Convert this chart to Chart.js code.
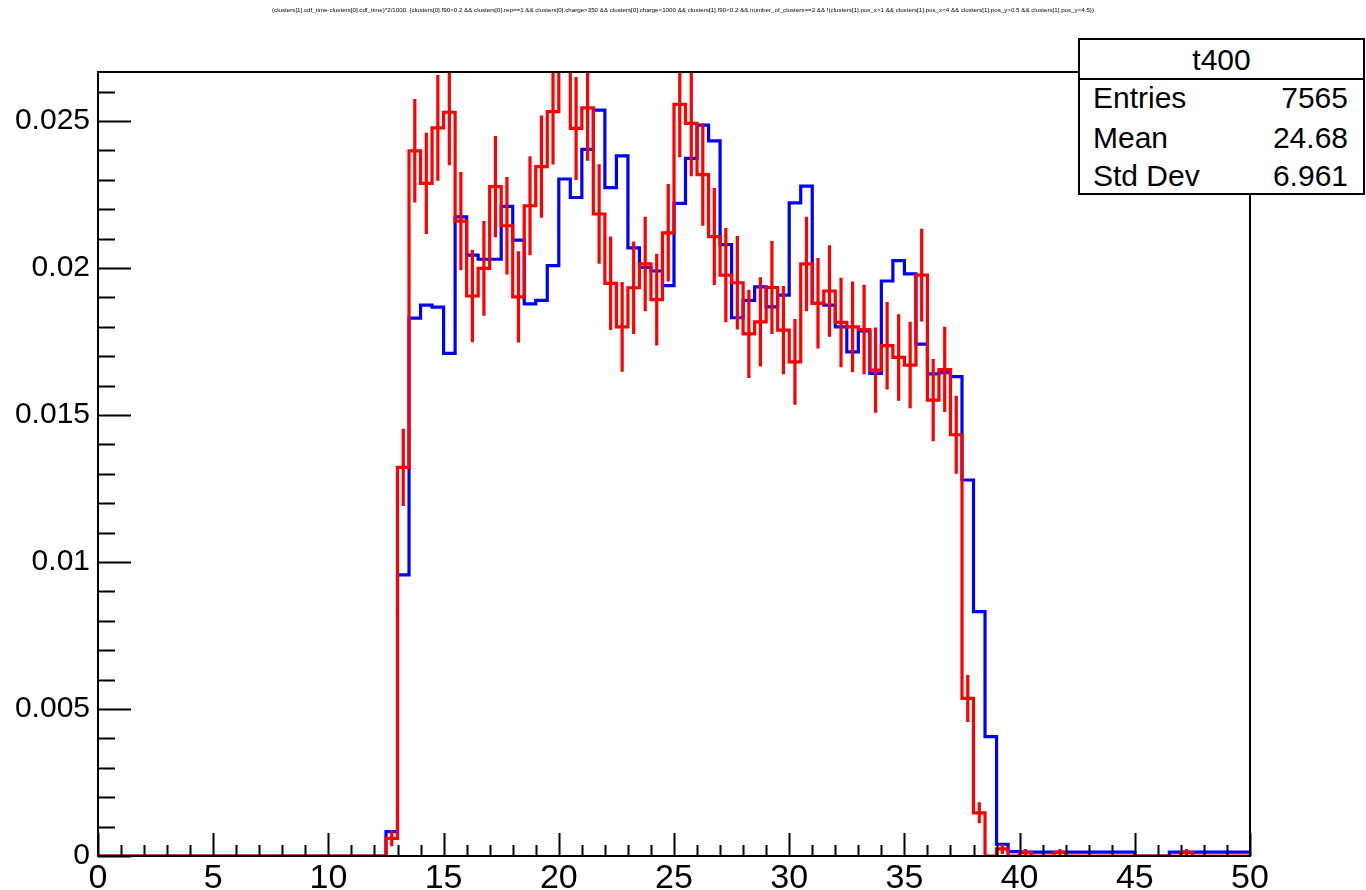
<!DOCTYPE html>
<html>
<head>
<meta charset="utf-8">
<script src="https://cdn.jsdelivr.net/npm/chart.js@4.4.1/dist/chart.umd.min.js"></script>
<style>
    body { margin: 0; background: #fff; }
    #wrap { position: relative; width: 1366px; height: 890px; overflow: hidden; font-family: "Liberation Sans", Arial, Helvetica, sans-serif; }
    #histo { position: absolute; left: 0; top: 0; }
    #title { position: absolute; left: 0; width: 1366px; top: 6px; text-align: center; font-size: 6.2px; line-height: 7px; color: #000; white-space: nowrap; }
    #stats { position: absolute; left: 1078px; top: 38px; width: 287px; height: 157px; border: 2px solid #000; box-sizing: border-box; background: #fff; }
    #stats .sep { position: absolute; left: 0; right: 0; top: 38px; border-top: 2px solid #000; }
    .st { position: absolute; font-size: 30px; line-height: 30px; color: #000; white-space: nowrap; }
</style>
</head>
<body>
<div id="wrap">
    <canvas id="histo" width="1366" height="890"></canvas>
    <div id="title">(clusters[1].cdf_time-clusters[0].cdf_time)*2/1000. {clusters[0].f90&gt;0.2 &amp;&amp; clusters[0].rep==1 &amp;&amp; clusters[0].charge&gt;350 &amp;&amp; clusters[0].charge&lt;1000 &amp;&amp; clusters[1].f90&lt;0.2 &amp;&amp; number_of_clusters==2 &amp;&amp; !(clusters[1].pos_x&gt;1 &amp;&amp; clusters[1].pos_x&lt;4 &amp;&amp; clusters[1].pos_y&gt;0.5 &amp;&amp; clusters[1].pos_y&lt;4.5)}</div>
    <div id="stats"><div class="sep"></div></div>
</div>
<script>
// histogram binning (100 bins of 0.5 from 0 to 50)
const xMin = 0;
const xMax = 50;
const binWidth = 0.5;
const yMax = 0.02667;

// blue histogram (t400), one value per bin
const blueValues = [
    0, 0, 0, 0, 0, 0, 0, 0, 0, 0,
    0, 0, 0, 0, 0, 0, 0, 0, 0, 0,
    0, 0, 0, 0, 0, 0.00083, 0.00956, 0.0183, 0.01874, 0.01867,
    0.0171, 0.02174, 0.02044, 0.0203, 0.0203, 0.0221, 0.02095, 0.01878, 0.0189, 0.02008,
    0.02303, 0.0224, 0.02404, 0.02537, 0.02274, 0.02382, 0.02069, 0.02002, 0.0199, 0.0194,
    0.0222, 0.02373, 0.02486, 0.02433, 0.0208, 0.01831, 0.0189, 0.01936, 0.01868, 0.01908,
    0.02222, 0.02279, 0.0188, 0.01874, 0.018, 0.01715, 0.01786, 0.01642, 0.01956, 0.02025,
    0.0198, 0.01741, 0.0164, 0.01644, 0.01631, 0.01279, 0.00831, 0.00406, 0.0004, 0.00015,
    0.00013, 0.00013, 0.00013, 0.00013, 0.00013, 0.00013, 0.00013, 0.00013, 0.00013, 0.00013,
    0, 0, 0, 0.00013, 0.00013, 0.00013, 0.00013, 0.00013, 0.00013, 0.00013
];

// red histogram with its errors
const redValues = [
    0, 0, 0, 0, 0, 0, 0, 0, 0, 0,
    0, 0, 0, 0, 0, 0, 0, 0, 0, 0,
    0, 0, 0, 0, 0, 0.0006, 0.01322, 0.02399, 0.02288, 0.02477,
    0.0253, 0.0216, 0.01905, 0.01999, 0.02277, 0.02144, 0.01902, 0.02212, 0.02345, 0.02532,
    0.029, 0.02475, 0.02545, 0.02184, 0.01948, 0.018, 0.01933, 0.02014, 0.01893, 0.0212,
    0.02557, 0.02492, 0.02318, 0.02107, 0.01976, 0.0195, 0.01776, 0.01817, 0.01934, 0.01789,
    0.01681, 0.02014, 0.0188, 0.01922, 0.01815, 0.018, 0.01791, 0.01653, 0.01736, 0.01696,
    0.0167, 0.01976, 0.01551, 0.01655, 0.01433, 0.00536, 0.00147, 0, 0.00024, 0,
    0.00012, 0, 0, 0.00012, 0, 0, 0, 0, 0, 0,
    0, 0, 0, 0, 0.00012, 0, 0, 0, 0, 0
];

const redErrors = [
    0, 0, 0, 0, 0, 0, 0, 0, 0, 0,
    0, 0, 0, 0, 0, 0, 0, 0, 0, 0,
    0, 0, 0, 0, 0, 0.00027, 0.00131, 0.00176, 0.00172, 0.0018,
    0.0018, 0.00167, 0.00157, 0.00161, 0.00172, 0.00166, 0.00155, 0.00168, 0.00174, 0.0018,
    0.0019, 0.00175, 0.0018, 0.00169, 0.00159, 0.00153, 0.00157, 0.00161, 0.00156, 0.00166,
    0.0018, 0.0018, 0.00174, 0.00165, 0.0016, 0.00159, 0.0015, 0.00152, 0.00158, 0.0015,
    0.00146, 0.00161, 0.00154, 0.00156, 0.00152, 0.00154, 0.00152, 0.00145, 0.00149, 0.00147,
    0.00147, 0.00158, 0.0014, 0.00145, 0.00133, 0.0008, 0.00036, 0, 0.00017, 0,
    0.00012, 0, 0, 0.00012, 0, 0, 0, 0, 0, 0,
    0, 0, 0, 0, 0.00012, 0, 0, 0, 0, 0
];

// stats box
const statsTitle = 't400';
const statsLabels = ['Entries', 'Mean', 'Std Dev'];
const statsValues = ['7565', '24.68', '6.961'];

const FONT = '"Liberation Sans", Arial, Helvetica, sans-serif';

// build the step outline of a histogram
const toSteps = (values) => {
    const pts = [];
    values.forEach((v, i) => {
        pts.push({x: xMin + i * binWidth, y: v});
        pts.push({x: xMin + (i + 1) * binWidth, y: v});
    });
    return pts;
};

// vertical error bars at bin centres, separated by gaps
const toErrorBars = (values, errors) => {
    const pts = [];
    values.forEach((v, i) => {
        if (errors[i] <= 0) return;
        const c = xMin + (i + 0.5) * binWidth;
        pts.push({x: c, y: v - errors[i]});
        pts.push({x: c, y: v + errors[i]});
        pts.push({x: c, y: null});
    });
    return pts;
};

// ROOT style frame and inward tick marks
const frameTicks = {
    id: 'frameTicks',
    afterDraw(chart) {
        const {ctx, chartArea: a, scales: {x, y}} = chart;
        ctx.save();
        ctx.strokeStyle = '#000';
        ctx.lineWidth = 2;
        ctx.beginPath();
        for (let k = 0; k <= 26; k++) {
            const py = Math.round(y.getPixelForValue(k * 0.001)) + 0.5;
            const len = k % 5 === 0 ? 33 : 17;
            ctx.moveTo(a.left, py);
            ctx.lineTo(a.left + len, py);
        }
        for (let k = 0; k <= 50; k++) {
            const px = Math.round(x.getPixelForValue(k)) + 0.5;
            const len = k % 5 === 0 ? 23 : 11;
            ctx.moveTo(px, a.bottom);
            ctx.lineTo(px, a.bottom - len);
        }
        ctx.stroke();
        ctx.strokeRect(a.left, a.top, a.right - a.left, a.bottom - a.top);
        ctx.restore();
    }
};

const renderHisto = () => {
    const ctx = document.getElementById('histo').getContext('2d');
    new Chart(ctx, {
        type: 'line',
        data: {
            datasets: [
                {
                    label: 'red',
                    data: toSteps(redValues),
                    borderColor: '#ff0000',
                    borderWidth: 3.2,
                    pointRadius: 0,
                    tension: 0,
                    order: 0
                },
                {
                    label: 'red errors',
                    data: toErrorBars(redValues, redErrors),
                    borderColor: '#ff0000',
                    borderWidth: 3.2,
                    pointRadius: 0,
                    spanGaps: false,
                    order: 1
                },
                {
                    label: 't400',
                    data: toSteps(blueValues),
                    borderColor: '#0000ff',
                    borderWidth: 3.2,
                    pointRadius: 0,
                    tension: 0,
                    order: 2
                }
            ]
        },
        options: {
            responsive: false,
            animation: false,
            devicePixelRatio: 1,
            layout: {padding: {left: 0, top: 72, right: 116, bottom: 0}},
            plugins: {legend: {display: false}, tooltip: {enabled: false}},
            scales: {
                x: {
                    type: 'linear',
                    min: xMin,
                    max: xMax,
                    grid: {display: false, drawTicks: false},
                    border: {display: false},
                    ticks: {
                        stepSize: 5,
                        maxRotation: 0,
                        autoSkip: false,
                        padding: 2,
                        color: '#000',
                        font: {family: FONT, size: 34}
                    },
                    afterFit: (scale) => { scale.height = 34; }
                },
                y: {
                    min: 0,
                    max: yMax,
                    grid: {display: false, drawTicks: false},
                    border: {display: false},
                    ticks: {
                        stepSize: 0.005,
                        includeBounds: false,
                        padding: 8,
                        color: '#000',
                        font: {family: FONT, size: 30},
                        callback: (v) => String(+v.toFixed(3))
                    },
                    afterFit: (scale) => { scale.width = 98; }
                }
            }
        },
        plugins: [frameTicks]
    });
};

const renderStats = () => {
    const box = document.getElementById('wrap');
    const add = (text, css) => {
        const d = document.createElement('div');
        d.className = 'st';
        d.textContent = text;
        Object.assign(d.style, css);
        box.appendChild(d);
    };
    add(statsTitle, {left: '1078px', width: '287px', textAlign: 'center', top: '45px'});
    const tops = [83, 123, 161];
    statsLabels.forEach((lab, i) => {
        add(lab, {left: '1093px', top: tops[i] + 'px'});
        add(statsValues[i], {right: '18px', top: tops[i] + 'px'});
    });
};

document.addEventListener('DOMContentLoaded', () => {
    renderHisto();
    renderStats();
});
</script>
</body>
</html>
